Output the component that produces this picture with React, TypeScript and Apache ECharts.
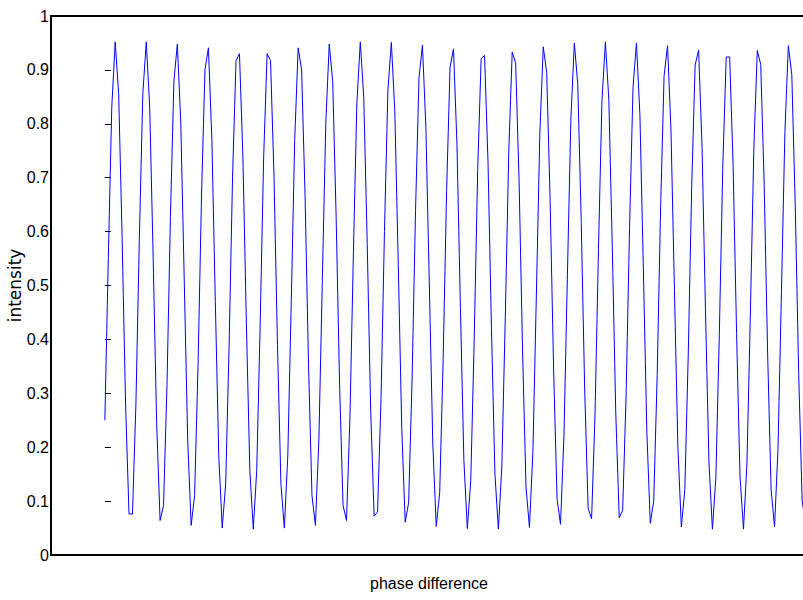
import React, { useEffect, useRef } from "react";
import * as echarts from "echarts";

// intensity samples (equally spaced along the phase axis)
const intensityPart1: number[] = [
  0.25, 0.55, 0.83, 0.952, 0.856, 0.589, 0.28, 0.076, 0.076, 0.28,
  0.589, 0.856, 0.952, 0.83, 0.55, 0.246, 0.064, 0.092, 0.316, 0.628,
  0.879, 0.948, 0.801, 0.51, 0.214, 0.055, 0.11, 0.353, 0.666, 0.9,
  0.941, 0.771, 0.47, 0.184, 0.05, 0.132, 0.391, 0.703, 0.917, 0.93,
  0.737, 0.43, 0.157, 0.048, 0.157, 0.43, 0.737, 0.93, 0.917, 0.703,
  0.391, 0.132, 0.05, 0.184, 0.47, 0.771, 0.941, 0.9, 0.666, 0.353,
  0.11, 0.055, 0.214, 0.51, 0.801, 0.948, 0.879, 0.628, 0.316, 0.092,
  0.064,
];
const intensityPart2: number[] = [
  0.255, 0.561, 0.838, 0.952, 0.849, 0.578, 0.27, 0.072, 0.08, 0.29,
  0.6, 0.863, 0.951, 0.823, 0.539, 0.237, 0.061, 0.097, 0.326, 0.639,
  0.885, 0.946, 0.793, 0.499, 0.206, 0.053, 0.116, 0.363, 0.676, 0.905,
  0.939, 0.762, 0.459, 0.176, 0.049, 0.138, 0.402, 0.713, 0.921, 0.927,
  0.728, 0.419, 0.15, 0.048, 0.164, 0.441, 0.746, 0.933, 0.913, 0.693,
  0.38, 0.126, 0.051, 0.192, 0.481, 0.78, 0.943, 0.895, 0.656, 0.343,
  0.104, 0.057, 0.223, 0.521, 0.809, 0.95, 0.873, 0.617, 0.306, 0.087,
  0.067,
];
const intensityPart3: number[] = [
  0.262, 0.569, 0.843, 0.952, 0.844, 0.57, 0.264, 0.069, 0.083, 0.297,
  0.608, 0.868, 0.95, 0.817, 0.531, 0.23, 0.059, 0.1, 0.333, 0.646,
  0.889, 0.945, 0.787, 0.491, 0.199, 0.052, 0.12, 0.371, 0.684, 0.909,
  0.937, 0.756, 0.451, 0.171, 0.048, 0.143, 0.409, 0.72, 0.924, 0.924,
  0.721, 0.411, 0.145, 0.048, 0.169, 0.449, 0.753, 0.936, 0.91, 0.686,
  0.373, 0.121, 0.052, 0.198, 0.489, 0.786, 0.945, 0.891, 0.648, 0.335,
  0.1, 0.058, 0.229,
];

const yTickLabels: string[] = ["0", "0.1", "0.2", "0.3", "0.4", "0.5", "0.6", "0.7", "0.8", "0.9", "1"];

const labelFont = "'Liberation Sans', Arial, sans-serif";

export default function App() {
  const ref = useRef<HTMLDivElement>(null);

  useEffect(() => {
    if (!ref.current) return;
    const chart = echarts.init(ref.current, undefined, { renderer: "svg" });
    const intensity = [...intensityPart1, ...intensityPart2, ...intensityPart3];
    const data = intensity.map((v, i) => [i, v]);

    chart.setOption({
      animation: false,
      backgroundColor: "#ffffff",
      grid: {
        left: 51,
        top: 16,
        right: -4,
        bottom: 45,
        show: true,
        borderColor: "#000000",
        borderWidth: 2,
        backgroundColor: "transparent",
        containLabel: false,
        outerBoundsMode: "none",
      },
      xAxis: {
        type: "value",
        min: -15.6,
        max: 203.4,
        axisLine: { show: false },
        axisTick: { show: false },
        axisLabel: { show: false },
        splitLine: { show: false },
        name: "phase difference",
        nameLocation: "middle",
        nameGap: 20,
        nameMoveOverlap: false,
        nameTextStyle: { color: "#000", fontSize: 16, fontFamily: labelFont },
      },
      yAxis: {
        type: "value",
        min: 0,
        max: 1,
        interval: 0.1,
        axisLine: { show: false },
        axisTick: { show: true, inside: true, length: 6, lineStyle: { color: "#000", width: 1 } },
        axisLabel: {
          show: true,
          margin: 2,
          color: "#000",
          fontSize: 16,
          fontFamily: labelFont,
          formatter: (val: number) => yTickLabels[Math.round(val * 10)] ?? "",
        },
        splitLine: { show: false },
        name: "intensity",
        nameLocation: "middle",
        nameGap: 28,
        nameMoveOverlap: false,
        nameTextStyle: { color: "#000", fontSize: 17, fontFamily: "'DejaVu Sans', sans-serif" },
      },
      series: [
        {
          type: "line",
          data,
          showSymbol: false,
          symbol: "none",
          clip: true,
          lineStyle: { color: "#0000ff", width: 1 },
        },
      ],
    });

    return () => chart.dispose();
  }, []);

  return (
    <div
      ref={ref}
      style={{ position: "absolute", left: 0, top: 0, width: 803, height: 600 }}
    />
  );
}
